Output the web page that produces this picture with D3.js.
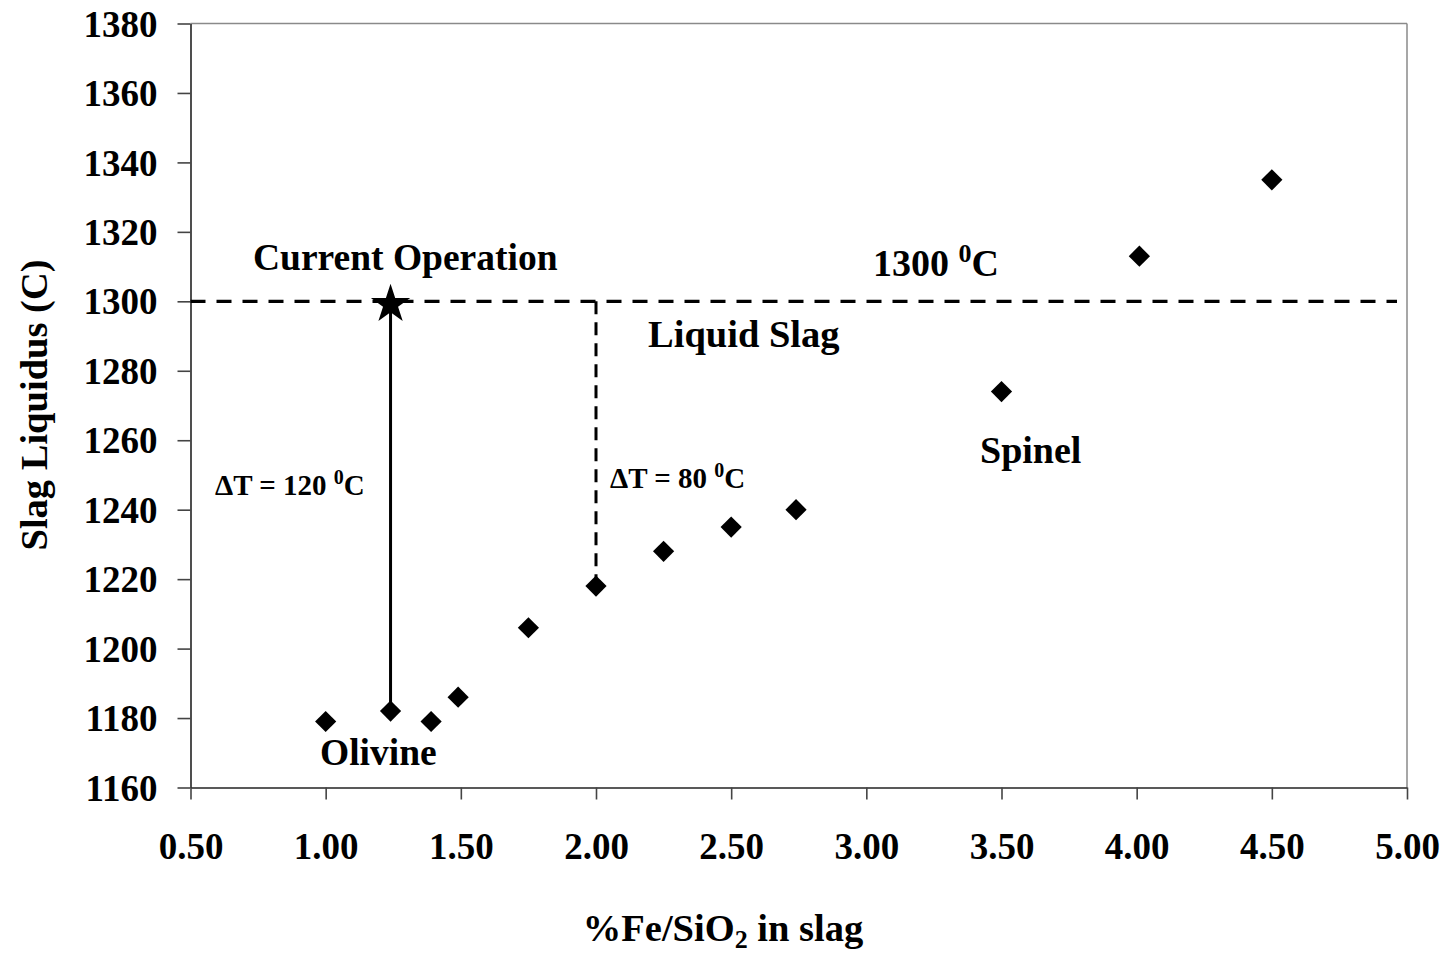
<!DOCTYPE html>
<html>
<head>
<meta charset="utf-8">
<script src="https://cdn.jsdelivr.net/npm/d3@7"></script>
<style>
  html, body { margin: 0; padding: 0; background: #fff; }
  svg text { font-family: "Liberation Serif", "Times New Roman", serif; font-weight: bold; fill: #000; }
</style>
</head>
<body>
<svg id="chart" width="1449" height="956"></svg>
<script>
// Slag liquidus temperature versus Fe/SiO2 ratio
const feSiO2 = [1.00, 1.24, 1.39, 1.49, 1.75, 2.00, 2.25, 2.50, 2.74, 3.50, 4.01, 4.50];
const liquidus = [1179, 1182, 1179, 1186, 1206, 1218, 1228, 1235, 1240, 1274, 1313, 1335];

const xTicks = [0.5, 1.0, 1.5, 2.0, 2.5, 3.0, 3.5, 4.0, 4.5, 5.0];
const yTicks = [1160, 1180, 1200, 1220, 1240, 1260, 1280, 1300, 1320, 1340, 1360, 1380];

const currentOp = { x: 1.24, y: 1300 };   // operating point
const olivinePoint = { x: 1.24, y: 1182 }; // liquidus at current ratio
const limitTemp = 1300;                    // process temperature
const altPoint = { x: 2.00, y: 1218 };     // liquidus at Fe/SiO2 = 2

const svg = d3.select("#chart");
const plotL = 190.5, plotR = 1407, plotT = 23.5, plotB = 787.5;

const x = d3.scaleLinear().domain([0.5, 5.0]).range([plotL, plotR]);
const y = d3.scaleLinear().domain([1160, 1380]).range([plotB, plotT]);

// frame: grey top/right edges
svg.append("line").attr("x1", plotL).attr("x2", plotR).attr("y1", plotT).attr("y2", plotT)
  .attr("stroke", "#8a8a8a").attr("stroke-width", 1.5);
svg.append("line").attr("x1", plotR).attr("x2", plotR).attr("y1", plotT).attr("y2", plotB)
  .attr("stroke", "#8a8a8a").attr("stroke-width", 1.5);

// y axis
const yAxis = svg.append("g").attr("transform", `translate(${plotL},0)`)
  .call(d3.axisLeft(y).tickValues(yTicks).tickSize(13).tickSizeOuter(0).tickPadding(20)
    .tickFormat(d3.format("d")));
yAxis.select(".domain").attr("stroke", "#222").attr("stroke-width", 1.6);
yAxis.selectAll(".tick line").attr("stroke", "#444").attr("stroke-width", 1.6);
yAxis.selectAll(".tick text").attr("font-size", 37).attr("font-family", "Liberation Serif")
  .attr("font-weight", "bold").attr("fill", "#000").attr("dy", "0.34em");

// x axis
const xAxis = svg.append("g").attr("transform", `translate(0,${plotB})`)
  .call(d3.axisBottom(x).tickValues(xTicks).tickSize(12).tickSizeOuter(0).tickPadding(47)
    .tickFormat(d3.format(".2f")));
xAxis.select(".domain").attr("stroke", "#222").attr("stroke-width", 1.6);
xAxis.selectAll(".tick line").attr("stroke", "#444").attr("stroke-width", 1.6);
xAxis.selectAll(".tick text").attr("font-size", 37).attr("font-family", "Liberation Serif")
  .attr("font-weight", "bold").attr("fill", "#000").attr("dy", "0.34em");

// axis titles
svg.append("text").attr("x", 723).attr("y", 941).attr("text-anchor", "middle")
  .attr("font-size", 38.5)
  .call(t => {
    t.append("tspan").text("%Fe/SiO");
    t.append("tspan").attr("font-size", 26).attr("dy", 7).text("2");
    t.append("tspan").attr("dy", -7).text(" in slag");
  });
svg.append("text").attr("transform", "translate(47,405) rotate(-90)")
  .attr("text-anchor", "middle").attr("font-size", 38.5).text("Slag Liquidus (C)");

// 1300 °C dashed line
svg.append("line").attr("x1", plotL).attr("x2", 1397)
  .attr("y1", y(limitTemp)).attr("y2", y(limitTemp))
  .attr("stroke", "#000").attr("stroke-width", 3.2).attr("stroke-dasharray", "15,11");

// vertical dashed ΔT = 80
svg.append("line").attr("x1", x(altPoint.x)).attr("x2", x(altPoint.x))
  .attr("y1", y(limitTemp)).attr("y2", y(altPoint.y))
  .attr("stroke", "#000").attr("stroke-width", 3).attr("stroke-dasharray", "13,8");

// solid ΔT = 120 line
svg.append("line").attr("x1", x(currentOp.x)).attr("x2", x(currentOp.x))
  .attr("y1", y(currentOp.y)).attr("y2", y(olivinePoint.y))
  .attr("stroke", "#000").attr("stroke-width", 3);

// data points as diamonds
const diamond = d3.symbol().type(d3.symbolSquare).size(225);
svg.append("g").selectAll("path").data(feSiO2.map((v, i) => [v, liquidus[i]])).join("path")
  .attr("d", diamond)
  .attr("transform", d => `translate(${x(d[0])},${y(d[1])}) rotate(45)`)
  .attr("fill", "#000");

// current operation star
svg.append("path").attr("d", d3.symbol().type(d3.symbolStar).size(480))
  .attr("transform", `translate(${x(currentOp.x)},${y(currentOp.y) + 3})`)
  .attr("fill", "#000");

// annotations
function degLabel(xp, yp, num, size, supSize) {
  svg.append("text").attr("x", xp).attr("y", yp).attr("font-size", size)
    .call(t => {
      t.append("tspan").text(num + " ");
      t.append("tspan").attr("font-size", supSize).attr("dy", -size * 0.38).text("0");
      t.append("tspan").attr("dy", size * 0.38).text("C");
    });
}
svg.append("text").attr("x", 253).attr("y", 270).attr("font-size", 37.5).text("Current Operation");
degLabel(873, 276, "1300", 38, 26);
svg.append("text").attr("x", 648).attr("y", 347).attr("font-size", 38.5).text("Liquid Slag");
svg.append("text").attr("x", 980).attr("y", 463).attr("font-size", 38).text("Spinel");
svg.append("text").attr("x", 320).attr("y", 765).attr("font-size", 37.5).text("Olivine");
degLabel(215, 495, "ΔT = 120", 29, 20);
degLabel(610, 488, "ΔT = 80", 29, 20);
</script>
</body>
</html>
